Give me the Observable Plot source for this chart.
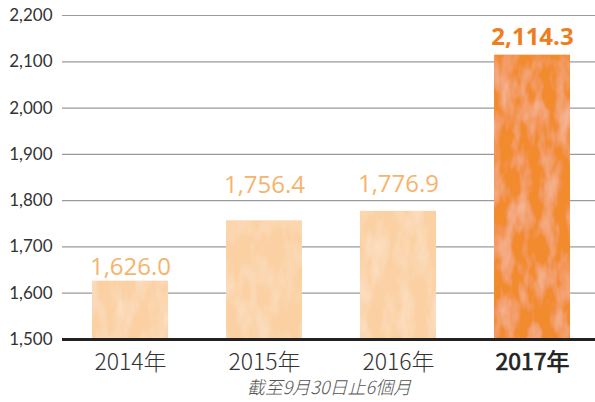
<!DOCTYPE html>
<html>
<head>
<meta charset="utf-8">
<script src="https://cdn.jsdelivr.net/npm/d3@7"></script>
<script src="https://cdn.jsdelivr.net/npm/@observablehq/plot@0.6"></script>
<style>
  html, body { margin: 0; padding: 0; background: #fff; }
  #chart svg { display: block; }
</style>
</head>
<body>
<div id="chart"></div>
<script>
const years = ["2014年", "2015年", "2016年", "2017年"];
const values = [1626.0, 1756.4, 1776.9, 2114.3];
const highlight = [false, false, false, true];
const yTicks = [1500, 1600, 1700, 1800, 1900, 2000, 2100, 2200];
const caption = "截至9月30日止6個月";

const data = years.map((y, i) => ({ year: y, value: values[i], hi: highlight[i] }));
const normal = data.filter(d => !d.hi);
const hot = data.filter(d => d.hi);
const fmt = d3.format(",.1f");
// label offsets above bar tops (style, px)
const labelDy = [-6, -28, -19, -10];

const labelMarks = data.map((d, i) => Plot.text([d], {
  x: "year", y: "value", text: e => fmt(e.value),
  lineAnchor: "bottom", dy: labelDy[i],
  fontSize: 24,
  fontWeight: d.hi ? "bold" : "normal",
  fill: d.hi ? "#ef7d1e" : "#f6b36c",
  fontFamily: "'Open Sans', sans-serif"
}));

const plot = Plot.plot({
  width: 595,
  height: 402,
  marginLeft: 62,
  marginRight: 0,
  marginTop: 15,
  marginBottom: 63,
  style: { fontFamily: "Lato, 'Open Sans', sans-serif", background: "#fff" },
  x: { domain: years, range: [62, 599], paddingInner: 0.434, paddingOuter: 0.216, axis: null },
  y: { domain: [1500, 2200], axis: null, label: null },
  marks: [
    Plot.gridY(yTicks.slice(1), { stroke: "#9a9a9a", strokeOpacity: 1, strokeWidth: 1.2 }),
    Plot.barY(data, {
      x: "year", y1: 1500, y2: "value",
      fill: d => d.hi ? "#f28a2e" : "#fbd1a4",
      className: "texbar"
    }),
    Plot.ruleY([1500], { stroke: "#222", strokeWidth: 3 }),
    Plot.axisY(yTicks, {
      tickSize: 0, tickPadding: 10, tickFormat: d3.format(","), label: null,
      fontSize: 17, fill: "#333", fontFamily: "Lato, sans-serif"
    }),
    ...labelMarks,
    Plot.text(normal, {
      x: "year", frameAnchor: "bottom", text: "year",
      lineAnchor: "middle", dy: 23, fontSize: 23, fill: "#333",
      fontFamily: "'Noto Sans CJK TC', 'Noto Sans', sans-serif", fontWeight: 300
    }),
    Plot.text(hot, {
      x: "year", frameAnchor: "bottom", text: "year",
      lineAnchor: "middle", dy: 23, fontSize: 23, fill: "#222",
      stroke: "#222", strokeWidth: 0.7,
      fontFamily: "'Noto Sans CJK TC', 'Noto Sans', sans-serif"
    }),
    Plot.text([caption], {
      frameAnchor: "bottom", text: d => d, lineAnchor: "middle",
      dy: 49, fontSize: 18, fontStyle: "italic", fill: "#555",
      fontFamily: "'Noto Sans CJK TC', sans-serif", fontWeight: 300
    })
  ]
});

// subtle texture on bars
const svg = d3.select(plot);
const defs = svg.insert("defs", ":first-child");
const f = defs.append("filter").attr("id", "tex").attr("x", 0).attr("y", 0).attr("width", 1).attr("height", 1);
f.append("feTurbulence").attr("type", "fractalNoise").attr("baseFrequency", "0.07 0.03")
  .attr("numOctaves", 3).attr("seed", 11).attr("result", "n");
f.append("feColorMatrix").attr("in", "n").attr("type", "matrix")
  .attr("values", "0 0 0 0 1  0 0 0 0 1  0 0 0 0 1  0 0 0 0.6 -0.24").attr("result", "w");
f.append("feComposite").attr("in", "w").attr("in2", "SourceGraphic").attr("operator", "in").attr("result", "wm");
const m = f.append("feMerge");
m.append("feMergeNode").attr("in", "SourceGraphic");
m.append("feMergeNode").attr("in", "wm");
svg.selectAll(".texbar rect").attr("filter", "url(#tex)");

document.getElementById("chart").appendChild(plot);
</script>
</body>
</html>
